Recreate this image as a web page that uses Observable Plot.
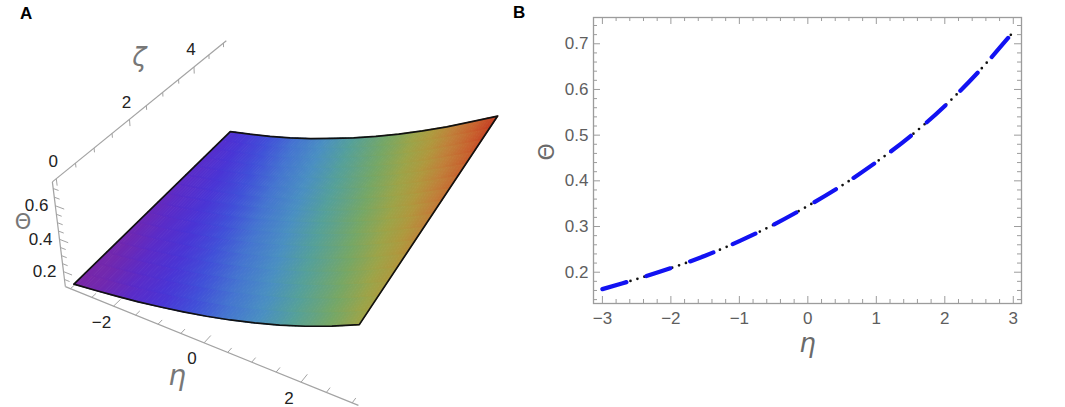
<!DOCTYPE html>
<html><head><meta charset="utf-8">
<script src="https://cdn.jsdelivr.net/npm/d3@7"></script>
<script src="https://cdn.jsdelivr.net/npm/@observablehq/plot@0.6"></script>
<style>
body{margin:0;background:#fff;font-family:"Liberation Sans",Arial,sans-serif;}
#wrap{position:relative;width:1065px;height:407px;overflow:hidden;background:#fff;}
.panel{position:absolute;top:0;}
.tag{position:absolute;font:bold 17px "Liberation Sans",Arial,sans-serif;color:#000;line-height:1;}
</style></head><body>
<div id="wrap">
  <div id="pa" class="panel" style="left:0px"></div>
  <div id="pb" class="panel" style="left:500px"></div>
  <div class="tag" style="left:20px;top:5px">A</div>
  <div class="tag" style="left:513px;top:4px">B</div>
</div>
<script>
// ---------- data: panel B (Θ vs η) ----------
const etaB = [-3, -2.5, -2, -1.5, -1, -0.5, 0, 0.5, 1, 1.5, 2, 2.5, 3];
const thetaB = [0.163, 0.185, 0.209, 0.236, 0.268, 0.304, 0.345, 0.390, 0.441, 0.498, 0.564, 0.640, 0.726];
const xTicksB = [-3, -2, -1, 0, 1, 2, 3];
const yTicksB = [0.2, 0.3, 0.4, 0.5, 0.6, 0.7];

// ---------- data: panel A (surface Θ(η, ζ)) ----------
const etaA = [-3, -2.5, -2, -1.5, -1, -0.5, 0, 0.5, 1, 1.5, 2, 2.5, 3];
const zetaA = [0, 5];
const thetaA_z0 = [0.112, 0.128, 0.146, 0.166, 0.190, 0.217, 0.247, 0.282, 0.322, 0.367, 0.419, 0.478, 0.545];
const thetaA_z5 = [0.175, 0.200, 0.228, 0.262, 0.300, 0.345, 0.392, 0.445, 0.502, 0.565, 0.632, 0.705, 0.780];
const etaTicksA = [-2, 0, 2];
const zetaTicksA = [0, 2, 4];
const thetaTicksA = [0.2, 0.4, 0.6];

// ---------- styles ----------
const rainbowT = [0, 0.031, 0.07, 0.117, 0.175, 0.244, 0.326, 0.416, 0.543, 0.648, 0.73, 0.813, 0.91, 1];
const rainbowC = ["#7b27a6","#7028b0","#5a2cc8","#4a35d5","#4150d8","#4575d0","#4a8fc2","#55a09a","#76a766","#9ca449","#b0983e","#c0803a","#c8602e","#c43a22"];
const rainbow = d3.scaleLinear().domain(rainbowT).range(rainbowC).interpolate(d3.interpolateRgb).clamp(true);
const FONT = "Liberation Sans, Arial, sans-serif";

// =================== PANEL B ===================
const PB = {W: 540, H: 370, mt: 17, mb: 67, ml: 93, mr: 19};
const innerHB = PB.H - PB.mt - PB.mb;
const innerWB = PB.W - PB.ml - PB.mr;
const dataB = etaB.map((eta, i) => ({eta, theta: thetaB[i]}));
const isInt = (v, step) => Math.abs(v / step - Math.round(v / step)) < 1e-6;
const xMinorB = d3.range(-3, 3.0001, 0.2).map(v => +v.toFixed(2)).filter(v => !isInt(v, 1));
const yMinorB = d3.range(0.14, 0.7501, 0.02).map(v => +v.toFixed(2)).filter(v => !isInt(v, 0.1));
const tickCol = "#9c9c9c";

const chartB = Plot.plot({
  width: PB.W, height: PB.H,
  marginTop: PB.mt, marginBottom: PB.mb, marginLeft: PB.ml, marginRight: PB.mr,
  x: {domain: [-3.13, 3.12]},
  y: {domain: [0.1315, 0.7575]},
  style: {fontFamily: FONT, background: "transparent", overflow: "visible"},
  marks: [
    Plot.ruleX(xTicksB, {stroke: tickCol, insetTop: innerHB - 7}),
    Plot.ruleX(xTicksB, {stroke: tickCol, insetBottom: innerHB - 7}),
    Plot.ruleX(xMinorB, {stroke: tickCol, insetTop: innerHB - 4}),
    Plot.ruleX(xMinorB, {stroke: tickCol, insetBottom: innerHB - 4}),
    Plot.ruleY(yTicksB, {stroke: tickCol, insetRight: innerWB - 7}),
    Plot.ruleY(yTicksB, {stroke: tickCol, insetLeft: innerWB - 7}),
    Plot.ruleY(yMinorB, {stroke: tickCol, insetRight: innerWB - 4}),
    Plot.ruleY(yMinorB, {stroke: tickCol, insetLeft: innerWB - 4}),
    Plot.frame({stroke: tickCol, strokeWidth: 1.3}),
    Plot.axisX(xTicksB, {tickSize: 0, tickPadding: 8, fontSize: 17, color: "#5e5e5e", label: null}),
    Plot.axisY(yTicksB, {tickSize: 0, tickPadding: 5, fontSize: 17, color: "#5e5e5e", label: null, tickFormat: d3.format(".1f")}),
    Plot.line(dataB, {x: "eta", y: "theta", curve: "catmull-rom", stroke: "#111", strokeWidth: 2.7, strokeDasharray: "0,7.3", strokeLinecap: "round"}),
    Plot.line(dataB, {x: "eta", y: "theta", curve: "catmull-rom", stroke: "#1212f2", strokeWidth: 4.2, strokeDasharray: "25,21"}),
    Plot.text(["η"], {frameAnchor: "bottom", dy: 48, fontSize: 26, fontStyle: "italic", fill: "#6a6a6a", fontFamily: "DejaVu Sans, sans-serif"}),
    Plot.text(["Θ"], {frameAnchor: "left", dx: -47, rotate: -90, fontSize: 22, fill: "#6a6a6a", fontFamily: "DejaVu Sans, sans-serif"})
  ]
});
document.getElementById("pb").appendChild(chartB);

// =================== PANEL A ===================
// perspective camera (world: X = η, Y = KY·ζ, Z = KZ·Θ)
const BOX = {eta: [-3.12, 3.12], zeta: [-0.1, 5.1], theta: [0.104, 0.738]};
const KY = 1.134, KZ = 3.853;
const CAM = {F: 1300, cx: 270, cy: 215.7, eye: [9.753, -14.491, 16.319], heading: 30.2, pitch: 37};
function makeCamera(c) {
  const a = c.heading * Math.PI / 180, p = c.pitch * Math.PI / 180;
  const h = [-Math.sin(a), Math.cos(a)];
  const f = [Math.cos(p) * h[0], Math.cos(p) * h[1], -Math.sin(p)];
  const rn = Math.hypot(f[0], f[1]);
  const r = [f[1] / rn, -f[0] / rn, 0];
  const u = [r[1] * f[2] - r[2] * f[1], r[2] * f[0] - r[0] * f[2], r[0] * f[1] - r[1] * f[0]];
  return (eta, zeta, theta) => {
    const q = [eta - c.eye[0], zeta * KY - c.eye[1], theta * KZ - c.eye[2]];
    const d = q[0] * f[0] + q[1] * f[1] + q[2] * f[2];
    return [c.cx + c.F * (q[0] * r[0] + q[1] * r[1] + q[2] * r[2]) / d,
            c.cy - c.F * (q[0] * u[0] + q[1] * u[1] + q[2] * u[2]) / d];
  };
}
const proj = makeCamera(CAM);
const lerp = (a, b, t) => a + (b - a) * t;
const [tMin, tMax] = d3.extent([...thetaA_z0, ...thetaA_z5]);

// surface cells (bilinear shading between the sampled values)
const S = 8, K = 16;
const cells = [];
let cid = 0;
for (let i = 0; i < etaA.length - 1; i++) {
  const pt = (s, w) => {
    const th0 = lerp(thetaA_z0[i], thetaA_z0[i + 1], s);
    const th5 = lerp(thetaA_z5[i], thetaA_z5[i + 1], s);
    return [lerp(etaA[i], etaA[i + 1], s), lerp(zetaA[0], zetaA[1], w), lerp(th0, th5, w)];
  };
  for (let a = 0; a < S; a++) for (let b = 0; b < K; b++) {
    const c = pt((a + 0.5) / S, (b + 0.5) / K);
    const col = rainbow((c[2] - tMin) / (tMax - tMin));
    for (const [s, w] of [[a / S, b / K], [(a + 1) / S, b / K], [(a + 1) / S, (b + 1) / K], [a / S, (b + 1) / K]]) {
      const [x, y] = proj(...pt(s, w));
      cells.push({id: cid, x, y, c: col});
    }
    cid++;
  }
}

// outline of the surface
const outline = [];
etaA.forEach((e, i) => outline.push(proj(e, zetaA[0], thetaA_z0[i])));
for (let i = etaA.length - 1; i >= 0; i--) outline.push(proj(etaA[i], zetaA[1], thetaA_z5[i]));
outline.push(outline[0]);

// box axes
const [e0, e1] = BOX.eta, [z0, z1] = BOX.zeta, [t0, t1] = BOX.theta;
const seg = (p, q) => { const A = proj(...p), B = proj(...q); return {x1: A[0], y1: A[1], x2: B[0], y2: B[1]}; };
const axesA = [
  seg([e0, z0, t0], [e0, z0, t1]),
  seg([e0, z0, t0], [e1, z0, t0]),
  seg([e0, z0, t1], [e0, z1, t1])
];
const ticksA = [];
d3.range(-3, 3.0001, 0.5).forEach(v => { const L = etaTicksA.includes(v) ? 0.2 : 0.12; ticksA.push(seg([v, z0, t0], [v, z0 + L, t0])); });
d3.range(0, 5.0001, 0.5).forEach(v => { const L = zetaTicksA.includes(v) ? 0.04 : 0.025; ticksA.push(seg([e0, v, t1], [e0, v, t1 - L])); });
d3.range(0.15, 0.7001, 0.05).map(v => +v.toFixed(2)).forEach(v => { const L = thetaTicksA.includes(v) ? 0.2 : 0.12; ticksA.push(seg([e0, z0, v], [e0 + L, z0, v])); });

const etaLab = etaTicksA.map(v => { const [x, y] = proj(v, z0, t0); return {x, y, t: d3.format("")(v).replace("-", "−")}; });
const zetaLab = zetaTicksA.map(v => { const [x, y] = proj(e0, v, t1); return {x, y, t: String(v)}; });
const thetaLab = thetaTicksA.map(v => { const [x, y] = proj(e0, z0, v); return {x, y, t: d3.format(".1f")(v)}; });
const etaName = [proj(0, z0, t0)].map(([x, y]) => ({x, y, t: "η"}));
const zetaName = [proj(e0, 2.5, t1)].map(([x, y]) => ({x, y, t: "ζ"}));
const thetaName = [proj(e0, z0, (t0 + t1) / 2)].map(([x, y]) => ({x, y, t: "Θ"}));

const chartA = Plot.plot({
  width: 500, height: 407,
  marginTop: 0, marginBottom: 0, marginLeft: 0, marginRight: 0,
  x: {domain: [0, 500], range: [0, 500], axis: null},
  y: {domain: [0, 407], range: [0, 407], axis: null},
  color: {type: "identity"},
  style: {fontFamily: FONT, background: "transparent", overflow: "visible"},
  marks: [
    Plot.link(axesA, {x1: "x1", y1: "y1", x2: "x2", y2: "y2", stroke: "#a3a3a3", strokeWidth: 1.2}),
    Plot.link(ticksA, {x1: "x1", y1: "y1", x2: "x2", y2: "y2", stroke: "#a3a3a3", strokeWidth: 1}),
    Plot.line(cells, {x: "x", y: "y", z: "id", fill: "c", stroke: "c", strokeWidth: 1.2}),
    Plot.line(outline, {x: d => d[0], y: d => d[1], stroke: "#111", strokeWidth: 1.7, strokeLinejoin: "round"}),
    Plot.text(etaLab, {x: "x", y: "y", text: "t", dx: -12, dy: 16, fontSize: 17, fill: "#222"}),
    Plot.text(zetaLab, {x: "x", y: "y", text: "t", dx: -3, dy: -17, fontSize: 17, fill: "#222"}),
    Plot.text(thetaLab, {x: "x", y: "y", text: "t", dx: -7, dy: 0, textAnchor: "end", fontSize: 17, fill: "#222"}),
    Plot.text(etaName, {x: "x", y: "y", text: "t", dx: -27, dy: 33, fontSize: 28, fontStyle: "italic", fill: "#777", fontFamily: "DejaVu Sans, sans-serif"}),
    Plot.text(zetaName, {x: "x", y: "y", text: "t", dx: -7, dy: -48, fontSize: 26, fontStyle: "italic", fill: "#777", fontFamily: "DejaVu Sans, sans-serif"}),
    Plot.text(thetaName, {x: "x", y: "y", text: "t", dx: -36, dy: -14, fontSize: 21, fill: "#777", fontFamily: "DejaVu Sans, sans-serif"})
  ]
});
document.getElementById("pa").appendChild(chartA);
</script>
</body></html>
